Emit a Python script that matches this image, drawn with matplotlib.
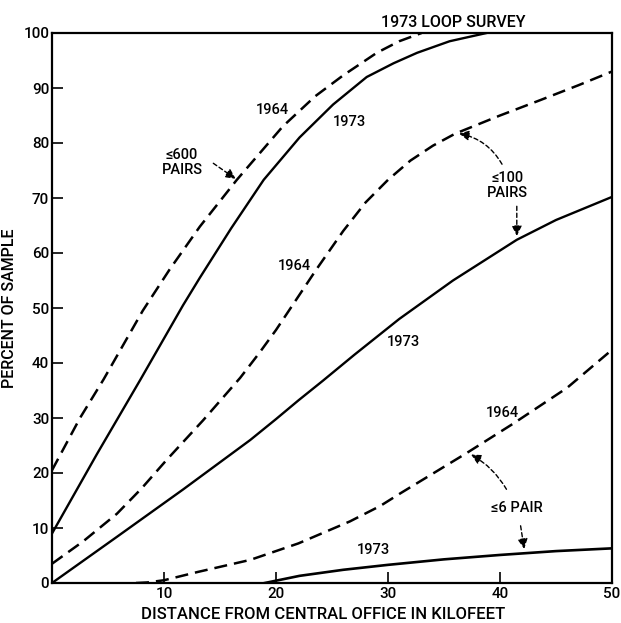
import numpy as np
import matplotlib
matplotlib.use("Agg")
import matplotlib.pyplot as plt

plt.rcParams['font.family'] = ['Roboto', 'DejaVu Sans']
plt.rcParams['font.weight'] = 'medium'
plt.rcParams['axes.labelweight'] = 'medium'

# curves (distance in kilofeet, percent of sample)
x_600_1964 = [0, 2.5, 4.6, 8.1, 10.5, 13.2, 16.5, 20.6, 23.5, 26, 29, 31, 33]
y_600_1964 = [20.5, 30, 37, 49.5, 57, 64.8, 73.3, 83, 88.5, 92.3, 96.4, 98.5, 100]

x_600_1973 = [0, 4, 7.9, 11.7, 13.2, 16, 18.9, 22.1, 25.1, 28.1, 30.5, 32.6, 35.5, 38.8]
y_600_1973 = [9, 23.4, 37, 50.5, 55.5, 64.5, 73.3, 81, 87, 92, 94.5, 96.4, 98.5, 100]

x_100_1964 = [0, 2.8, 5.8, 8, 10.2, 13.5, 16.8, 18.5, 20, 21.8, 23.6, 26, 28, 30, 32, 34, 36, 40, 43.6, 47, 50]
y_100_1964 = [3.5, 7.6, 12.6, 17.2, 22.3, 29.6, 37.3, 41.8, 46, 51.5, 57, 64, 69.2, 73.3, 76.8, 79.5, 81.7, 85, 87.8, 90.5, 93]

x_100_1973 = [0, 5.8, 11.7, 17.7, 20, 22, 24.2, 27, 31, 35.8, 41.5, 45, 50]
y_100_1973 = [0, 8.4, 17, 26, 29.8, 33.2, 36.8, 41.5, 48, 55, 62.4, 66, 70.2]

x_6_1964 = [7.5, 8.5, 10, 13, 17.7, 22, 26.6, 29.3, 31.1, 37, 41.2, 46, 50]
y_6_1964 = [0, 0.1, 0.5, 2, 4.2, 7.2, 11.2, 14, 16.3, 23.6, 29, 35.5, 42.4]

x_6_1973 = [19, 22.1, 26, 30, 35, 40, 45, 50]
y_6_1973 = [0, 1.3, 2.4, 3.3, 4.3, 5.1, 5.8, 6.3]

x_ticks = [10, 20, 30, 40, 50]
y_ticks = [0, 10, 20, 30, 40, 50, 60, 70, 80, 90, 100]

fig = plt.figure(figsize=(6.21, 6.23), dpi=100)
ax = fig.add_axes([52/621, 1 - 583/623, 560/621, 550/623])

dash = (5.2, 2.8)
lw = 1.8
ax.plot(x_600_1964, y_600_1964, color='black', lw=lw, dashes=dash)
ax.plot(x_600_1973, y_600_1973, color='black', lw=1.7)
ax.plot(x_100_1964, y_100_1964, color='black', lw=lw, dashes=dash)
ax.plot(x_100_1973, y_100_1973, color='black', lw=1.7)
ax.plot(x_6_1964, y_6_1964, color='black', lw=lw, dashes=dash)
ax.plot(x_6_1973, y_6_1973, color='black', lw=1.9)

ax.set_xlim(0, 50)
ax.set_ylim(0, 100)
ax.set_xticks(x_ticks)
ax.set_yticks(y_ticks)
ax.tick_params(direction='in', length=8, width=1.2, labelsize=11)
ax.tick_params(axis='y', pad=2)
ax.tick_params(axis='x', pad=3)
for s in ax.spines.values():
    s.set_linewidth(1.6)

ax.set_xlabel("DISTANCE FROM CENTRAL OFFICE IN KILOFEET", fontsize=12)
ax.xaxis.set_label_coords(0.485, -0.043)
ax.set_ylabel("PERCENT OF SAMPLE", fontsize=11.5)
ax.yaxis.set_label_coords(-0.062, 0.5)
ax.text(0.716, 1.005, "1973 LOOP SURVEY", transform=ax.transAxes,
        ha='center', va='bottom', fontsize=11.5)

fs = 10.5
# year labels
ax.text(19.7, 86, "1964", fontsize=fs, ha='center', va='center')
ax.text(26.6, 83.9, "1973", fontsize=fs, ha='center', va='center')
ax.text(21.6, 57.6, "1964", fontsize=fs, ha='center', va='center')
ax.text(31.4, 43.9, "1973", fontsize=fs, ha='center', va='center')
ax.text(40.2, 30.9, "1964", fontsize=fs, ha='center', va='center')
ax.text(28.7, 6.0, "1973", fontsize=fs, ha='center', va='center')

# group labels with arrows
arrow = dict(arrowstyle='-|>', color='black', lw=1, ls=(0, (3, 2)), mutation_scale=15)
ax.text(11.6, 76.4, "≤600\nPAIRS", fontsize=fs, ha='center', va='center', linespacing=1.1)
ax.annotate("", xy=(16.6, 73.2), xytext=(14.2, 76.6), arrowprops=arrow)

ax.text(40.7, 72.2, "≤100\nPAIRS", fontsize=fs, ha='center', va='center', linespacing=1.1)
ax.annotate("", xy=(36.1, 81.8), xytext=(40.3, 75.7),
            arrowprops=dict(arrow, connectionstyle='arc3,rad=0.25'))
ax.annotate("", xy=(41.5, 62.6), xytext=(41.5, 69.0), arrowprops=arrow)

ax.text(41.5, 13.6, "≤6 PAIR", fontsize=fs, ha='center', va='center')
ax.annotate("", xy=(37.2, 23.6), xytext=(40.7, 16.6),
            arrowprops=dict(arrow, connectionstyle='arc3,rad=0.15'))
ax.annotate("", xy=(42.2, 5.7), xytext=(41.8, 10.9), arrowprops=arrow)

plt.savefig("out.png", dpi=100)
